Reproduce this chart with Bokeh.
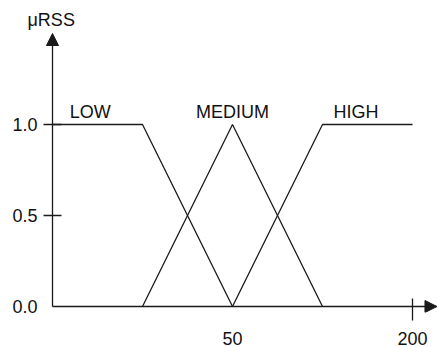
from bokeh.plotting import figure
from bokeh.models import (Range1d, FixedTicker, PrintfTickFormatter, Arrow,
                          NormalHead, Title, ColumnDataSource)
from bokeh.core.properties import value
from bokeh.embed import file_html
from bokeh.resources import INLINE

# ---- data (schematic axis positions) ----
low_x = [0, 25, 50]
low_y = [1.0, 1.0, 0.0]
med_x = [25, 50, 75]
med_y = [0.0, 1.0, 0.0]
high_x = [50, 75, 100]
high_y = [0.0, 1.0, 1.0]

set_names = ["LOW", "MEDIUM", "HIGH"]
set_label_x = [10.5, 50, 84.3]
set_label_y = [1.07, 1.07, 1.07]

x_tick_pos = [50, 100]
x_tick_labels = ["50", "200"]
x_tick_marks = [100]
y_tick_pos = [0.0, 0.5, 1.0]
y_tick_marks = [0.5, 1.0]

y_axis_title = "μRSS"

FONT = "Liberation Sans"
INK = "#1a1a1a"
TXT = "#111111"

p = figure(width=438, height=347, output_backend="svg", toolbar_location=None,
           x_range=Range1d(-8 / 3.6, 386 / 3.6),
           y_range=Range1d(-6 / 182, 276 / 182),
           min_border_left=44, min_border_right=0, min_border_top=30,
           min_border_bottom=35)
p.outline_line_color = None
p.grid.visible = False
p.background_fill_color = "white"
p.border_fill_color = "white"

for ax in (p.xaxis[0], p.yaxis[0]):
    ax.axis_line_color = None
    ax.major_tick_line_color = None
    ax.major_tick_out = 0
    ax.major_tick_in = 0
    ax.minor_tick_line_color = INK
    ax.minor_tick_line_width = 1.3
    ax.major_label_text_font = FONT
    ax.major_label_text_font_size = "18px"
    ax.major_label_text_color = TXT

p.xaxis.ticker = FixedTicker(ticks=x_tick_pos, minor_ticks=x_tick_marks)
p.xaxis.major_label_overrides = {t: l for t, l in zip(x_tick_pos, x_tick_labels)}
p.xaxis.major_label_standoff = 11
p.xaxis.minor_tick_in = 14
p.xaxis.minor_tick_out = 8

p.yaxis.ticker = FixedTicker(ticks=y_tick_pos, minor_ticks=y_tick_marks)
p.yaxis.formatter = PrintfTickFormatter(format="%.1f")
p.yaxis.major_label_standoff = 6
p.yaxis.minor_tick_in = 17
p.yaxis.minor_tick_out = 1

# axis lines with arrow heads
p.add_layout(Arrow(x_start=0, y_start=0, x_end=0, y_end=1.5,
                   line_color=INK, line_width=1.3,
                   end=NormalHead(size=12, fill_color=INK, line_color=INK)))
p.add_layout(Arrow(x_start=0, y_start=0, x_end=106.8, y_end=0,
                   line_color=INK, line_width=1.3,
                   end=NormalHead(size=12, fill_color=INK, line_color=INK)))

# membership functions
for xs, ys in ((low_x, low_y), (med_x, med_y), (high_x, high_y)):
    p.line(xs, ys, line_color=INK, line_width=1.3)

# set names
src = ColumnDataSource(dict(x=set_label_x, y=set_label_y, t=set_names))
p.text(x="x", y="y", text="t", source=src, text_align="center",
       text_baseline="alphabetic", text_font=value(FONT),
       text_font_size="18px", text_color=TXT)

# y axis title at the top of the axis
title = Title(text=y_axis_title, align="left", offset=-17, standoff=2,
              text_font=FONT, text_font_size="18px", text_font_style="normal",
              text_color=TXT)
p.add_layout(title, "above")

open("out.html", "w").write(file_html(p, INLINE))
